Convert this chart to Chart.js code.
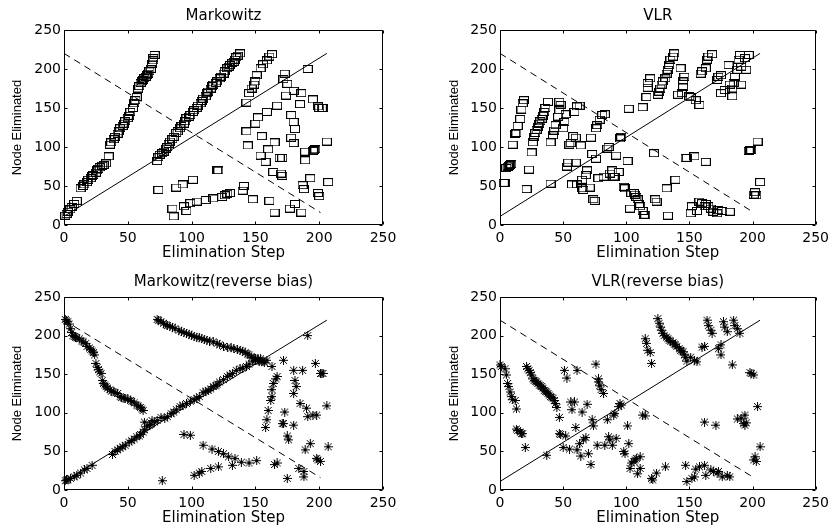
<!DOCTYPE html>
<html>
<head>
<meta charset="utf-8">
<script src="https://cdn.jsdelivr.net/npm/chart.js@4.4.1/dist/chart.umd.min.js"></script>
<style>
  body { margin: 0; background: #fff; width: 834px; height: 527px; position: relative; overflow: hidden; }
  canvas { position: absolute; }
</style>
</head>
<body>
<canvas id="c1" width="417" height="264" style="left:0;top:0"></canvas>
<canvas id="c2" width="417" height="264" style="left:417px;top:0"></canvas>
<canvas id="c3" width="417" height="263" style="left:0;top:264px"></canvas>
<canvas id="c4" width="417" height="263" style="left:417px;top:264px"></canvas>
<script>
// axis ticks (same on every panel)
const axisTicks = [0, 50, 100, 150, 200, 250];

// reference lines
const diagX = [0, 206], diagY = [11, 220];
const antiX = [0, 201], antiY = [220, 16];

// Markowitz (squares)
const mkStep = [1,2,3,5,6,8,10,13,15,16,18,19,21,22,23,25,26,27,28,30,31,33,35,36,37,39,40,42,43,44,46,47,48,50,51,52,54,55,56,57,58,59,60,61,62,63,64,65,66,67,68,69,70,70,71,
  73,74,75,77,78,80,81,82,83,85,86,88,89,91,92,94,95,96,98,99,101,102,104,105,107,108,109,111,112,113,115,116,117,119,120,122,123,125,126,128,129,130,132,133,134,135,136,138,
  143,145,147,149,150,151,154,156,159,161,163,
  140,141,148,152,150,155,159,154,158,160,161,165,167,165,164,170,171,169,171,173,172,174,175,177,178,178,180,181,180,180,181,185,186,187,188,189,189,186,191,193,195,196,197,195,199,200,202,203,199,200,206,207,143,144,
  74,85,86,88,93,94,96,99,101,104,111,117,120,121,124,126,128,130];
const mkNode = [12,14,17,20,23,27,31,47,50,52,55,58,60,63,64,67,70,72,74,76,77,79,88,103,106,110,113,117,120,124,127,130,133,137,140,145,150,156,160,164,175,178,182,184,186,188,190,192,194,197,200,207,211,214,218,
  82,87,90,92,94,98,100,104,107,110,113,118,120,124,127,130,133,137,139,141,145,147,150,153,156,159,162,165,169,171,175,178,180,182,184,188,190,194,197,201,203,205,208,209,212,215,217,220,
  157,169,175,180,184,192,201,206,211,216,219,
  44,50,33,138,130,114,145,89,81,97,31,106,153,16,68,66,63,86,86,194,187,166,181,21,112,141,132,123,105,172,27,155,169,51,46,83,94,16,200,60,95,96,97,161,152,150,150,150,41,37,107,55,120,102,
  45,21,11,48,52,24,18,28,58,30,32,34,70,70,36,38,40,41];

// VLR (squares)
const vlrStep = [3,4,5,6,7,8,9,10,12,13,14,16,17,18,19,21,23,25,26,27,28,29,30,31,32,33,34,35,36,38,
  40,40,42,43,44,46,47,47,48,50,51,52,53,54,55,56,57,58,59,60,61,61,63,60,64,65,65,66,68,69,
  71,72,73,74,75,76,76,77,79,81,83,78,82,85,86,87,89,90,91,92,94,95,96,98,99,101,103,102,104,106,
  107,108,109,110,111,113,114,115,113,116,117,117,119,122,123,124,125,126,127,128,
  129,131,132,133,134,135,137,138,132,133,139,143,145,145,144,146,141,147,148,154,
  150,151,155,158,151,152,156,158,160,162,163,165,167,169,172,173,176,182,159,160,
  163,163,164,165,168,172,173,175,175,178,181,182,184,184,185,186,188,189,190,191,
  191,194,195,197,197,198,199,204,206,202,203,201];
const vlrNode = [54,54,73,75,76,77,78,103,117,118,127,136,148,156,160,46,71,93,106,113,118,122,126,130,133,136,140,145,150,158,
  53,106,115,121,128,139,147,158,154,124,132,142,75,80,103,105,52,114,145,112,52,152,153,80,102,47,58,45,64,70,
  48,112,91,33,31,85,124,128,135,141,142,60,62,98,100,66,70,62,62,89,68,111,113,49,47,82,21,149,41,41,
  39,36,33,27,24,18,13,13,151,164,176,182,188,92,33,30,167,171,175,180,
  184,188,194,199,205,212,216,220,47,12,58,201,184,177,169,190,167,86,86,88,
  165,164,160,154,15,24,18,30,28,24,27,24,21,17,15,19,18,17,194,197,
  81,201,212,216,219,186,190,192,169,173,205,180,175,165,182,190,199,212,218,203,
  180,214,199,218,95,96,96,107,55,42,38,39];

// Markowitz (reverse bias) (stars)
const mkRevStep = [1,3,4,5,7,9,12,14,17,18,21,23,25,26,29,30,31,34,37,39,42,44,47,50,52,55,57,60,61,63,
  3,5,8,10,13,16,18,22,38,40,44,48,51,55,57,60,63,65,68,69,76,79,81,86,91,96,102,106,109,113,
  117,120,122,125,128,130,135,143,148,152,159,191,73,76,78,81,85,87,90,92,
  96,100,104,108,112,117,122,128,133,138,142,145,147,150,152,155,156,77,94,99,
  109,116,121,125,129,134,139,145,151,102,106,108,115,121,132,158,159,160,162,163,
  163,164,166,167,163,172,173,175,175,176,171,172,165,167,180,180,181,182,180,184,
  185,187,188,188,189,190,191,193,195,197,198,201,202,203,198,199,201,206,207,
  1,2,42,46,53,59,62,67,71,73,84,88,93,99,104,111,115,119,132,138,140,145,150,154,
  74,80,83,94,98,102,106,110,114,120,125,131,136,140,144,149,153,157,
  2,6,8,10,15,20,22,24,27,28,32,33,36,40,45,48,53,58,62];
const mkRevNode = [221,218,215,209,200,198,196,193,190,186,182,178,164,159,151,142,138,132,128,127,125,121,119,118,116,113,110,107,105,88,
  13,15,17,19,22,26,28,32,46,50,54,58,62,66,69,72,78,82,85,90,94,93,95,101,108,112,117,121,126,129,
  134,137,140,143,147,149,155,160,167,170,168,200,221,218,216,213,211,209,207,205,
  203,200,198,196,194,192,188,185,183,181,178,175,172,170,168,166,167,12,72,71,
  58,53,50,47,43,41,36,35,38,19,22,24,28,30,32,81,91,103,116,121,
  130,138,144,147,160,168,101,15,70,65,86,86,33,35,155,125,142,134,84,28,
  112,155,17,24,52,106,95,60,97,164,97,151,151,151,41,39,37,109,56,
  12,13,52,56,64,70,75,84,88,90,99,104,110,115,119,128,131,135,151,157,158,163,168,170,
  220,214,212,204,202,199,197,195,193,190,186,184,182,180,176,171,167,165,
  219,204,199,197,192,184,180,175,156,153,136,134,130,126,120,118,115,109,103];

// VLR (reverse bias) (stars)
const vlrRevStep = [0,1,4,5,6,7,8,9,10,12,13,13,14,16,17,18,20,21,23,25,26,27,29,30,31,33,34,35,37,38,
  39,40,42,43,44,45,47,47,48,37,50,51,52,53,55,56,57,59,60,61,61,63,64,65,66,68,69,70,72,73,
  74,76,77,78,78,79,80,82,83,85,86,87,89,90,91,92,94,95,96,98,99,101,102,103,104,106,107,108,109,111,
  113,115,111,115,116,117,119,120,120,121,124,131,125,126,128,129,132,134,137,139,
  142,145,146,147,148,151,154,156,147,148,152,154,155,158,162,163,167,169,172,173,
  176,180,182,160,162,162,164,165,167,168,171,173,175,175,177,178,180,184,185,186,
  188,188,190,191,193,194,194,195,198,199,201,201,202,203,204,206,
  22,24,28,32,36,41,127,130,133,135,138,140,143,144];
const vlrRevNode = [162,160,157,149,138,134,127,121,117,116,105,79,77,75,73,73,55,160,155,149,144,142,140,138,136,134,132,129,127,125,
  123,121,119,116,112,107,94,73,72,45,55,155,70,145,53,114,104,114,81,155,52,60,44,101,65,68,111,47,33,91,
  83,163,58,144,140,135,130,125,58,91,69,65,58,97,99,67,108,112,110,50,47,83,60,28,35,37,39,41,21,28,
  97,96,43,196,190,181,178,164,15,13,22,30,222,216,207,203,198,194,191,188,
  183,179,175,172,167,172,168,166,32,11,15,17,27,30,32,19,26,24,22,24,
  17,19,17,185,186,88,220,213,207,203,84,183,175,188,218,211,205,162,220,213,
  209,92,203,93,86,84,97,87,152,151,149,39,43,37,108,56,
  157,152,141,135,128,120,211,200,196,193,189,186,181,180];

// marker images
function squareMarker() {
  const c = document.createElement('canvas');
  c.width = 10; c.height = 8;
  const g = c.getContext('2d');
  g.strokeStyle = '#000'; g.lineWidth = 1;
  g.strokeRect(0.5, 0.5, 9, 7);
  return c;
}
function starMarker() {
  const c = document.createElement('canvas');
  c.width = 9; c.height = 9;
  const g = c.getContext('2d');
  g.strokeStyle = '#000'; g.lineWidth = 1;
  g.beginPath();
  g.moveTo(0, 4.5); g.lineTo(9, 4.5);
  g.moveTo(4.5, 0); g.lineTo(4.5, 9);
  g.moveTo(1, 1); g.lineTo(8, 8);
  g.moveTo(8, 1); g.lineTo(1, 8);
  g.stroke();
  return c;
}

// box around the plot + inward tick marks like matlab
const framePlugin = {
  id: 'frame',
  afterDatasetsDraw(chart) {
    const { ctx, chartArea: a, scales: { x, y } } = chart;
    ctx.save();
    ctx.strokeStyle = '#000';
    ctx.lineWidth = 1;
    ctx.beginPath();
    const L = Math.round(a.left) + 0.5, R = Math.round(a.right) - 0.5;
    const T = Math.round(a.top) + 0.5, B = Math.round(a.bottom) - 0.5;
    ctx.rect(L, T, R - L, B - T);
    x.ticks.forEach(t => {
      const px = Math.round(x.getPixelForValue(t.value)) + 0.5;
      ctx.moveTo(px, B); ctx.lineTo(px, B - 3);
      ctx.moveTo(px, T); ctx.lineTo(px, T + 3);
    });
    y.ticks.forEach(t => {
      const py = Math.round(y.getPixelForValue(t.value)) + 0.5;
      ctx.moveTo(L, py); ctx.lineTo(L + 3, py);
      ctx.moveTo(R, py); ctx.lineTo(R - 3, py);
    });
    ctx.stroke();
    ctx.restore();
  }
};

const tickFont = { family: 'DejaVu Sans', size: 14 };
const labelFont = { family: 'DejaVu Sans', size: 15 };

function makeChart(id, title, xs, ys, marker, g) {
  const pts = xs.map((v, i) => ({ x: v, y: ys[i] }));
  new Chart(document.getElementById(id), {
    type: 'scatter',
    data: {
      datasets: [
        {
          type: 'line',
          data: diagX.map((v, i) => ({ x: v, y: diagY[i] })),
          borderColor: '#000', borderWidth: 1, pointRadius: 0
        },
        {
          type: 'line',
          data: antiX.map((v, i) => ({ x: v, y: antiY[i] })),
          borderColor: '#000', borderWidth: 1, pointRadius: 0, borderDash: [7, 5]
        },
        {
          data: pts,
          pointStyle: marker,
          pointRadius: 5,
          clip: false
        }
      ]
    },
    options: {
      responsive: false,
      animation: false,
      layout: { padding: { left: 0, right: g.right, top: 0, bottom: 0 } },
      plugins: {
        legend: { display: false },
        tooltip: { enabled: false },
        title: {
          display: true, text: title, fullSize: false, color: '#000',
          font: { family: 'DejaVu Sans', size: 15, weight: 'normal' },
          padding: { top: g.titleTop, bottom: g.titleBottom }
        }
      },
      scales: {
        x: {
          type: 'linear', min: 0, max: 250,
          afterBuildTicks: s => { s.ticks = axisTicks.map(v => ({ value: v })); },
          ticks: { color: '#000', font: tickFont, padding: 5, maxRotation: 0 },
          grid: { display: false, drawTicks: false },
          border: { display: false },
          title: {
            display: true, text: 'Elimination Step', color: '#000',
            font: labelFont, padding: { top: 0, bottom: g.xTitleBottom }
          },
          afterFit: s => { s.height = g.xHeight; }
        },
        y: {
          type: 'linear', min: 0, max: 250,
          afterBuildTicks: s => { s.ticks = axisTicks.map(v => ({ value: v })); },
          ticks: { color: '#000', font: tickFont, padding: 3 },
          grid: { display: false, drawTicks: false },
          border: { display: false },
          title: {
            display: true, text: 'Node Eliminated', color: '#000',
            font: { family: 'Liberation Sans', size: 13 }, padding: { top: g.yTitleLeft, bottom: 0 }
          },
          afterFit: s => { s.width = g.yWidth; }
        }
      }
    },
    plugins: [framePlugin]
  });
}

const topRow = { titleTop: 6.7, titleBottom: 5.3, xHeight: 39, xTitleBottom: 2 };
const bottomRow = { titleTop: 9, titleBottom: 6, xHeight: 37, xTitleBottom: 0 };
const leftCol = { yWidth: 64, right: 34, yTitleLeft: 10 };
const rightCol = { yWidth: 83, right: 14, yTitleLeft: 30 };

makeChart('c1', 'Markowitz', mkStep, mkNode, squareMarker(), Object.assign({}, topRow, leftCol));
makeChart('c2', 'VLR', vlrStep, vlrNode, squareMarker(), Object.assign({}, topRow, rightCol));
makeChart('c3', 'Markowitz(reverse bias)', mkRevStep, mkRevNode, starMarker(), Object.assign({}, bottomRow, leftCol));
makeChart('c4', 'VLR(reverse bias)', vlrRevStep, vlrRevNode, starMarker(), Object.assign({}, bottomRow, rightCol));
</script>
</body>
</html>
